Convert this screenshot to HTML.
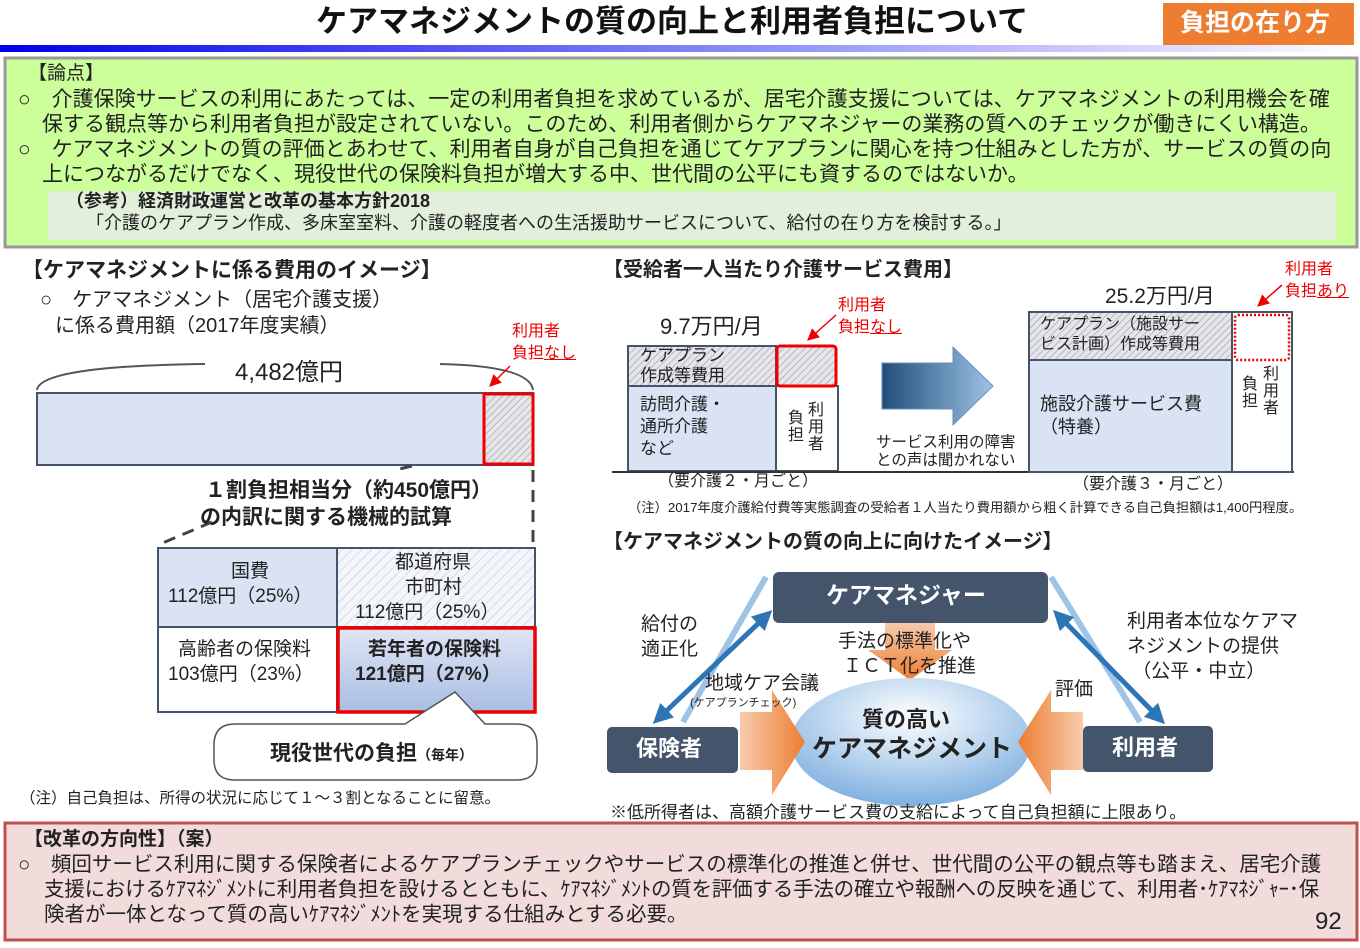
<!DOCTYPE html>
<html><head><meta charset="utf-8"><style>
*{margin:0;padding:0;box-sizing:border-box}
body{width:1360px;height:948px;background:#fff;position:relative;overflow:hidden;font-family:"Liberation Sans","Noto Sans CJK JP",sans-serif;color:#222}
.t{position:absolute;white-space:nowrap;line-height:1}
.b{font-weight:bold}
svg{position:absolute;left:0;top:0}
</style></head><body>
<svg width="1360" height="948" viewBox="0 0 1360 948">
<defs>
<linearGradient id="hb" x1="0" x2="1"><stop offset="0" stop-color="#0000ee"/><stop offset="1" stop-color="#ffffff"/></linearGradient>
<pattern id="hatch" width="5" height="5" patternUnits="userSpaceOnUse" patternTransform="rotate(45)"><rect width="5" height="5" fill="#e6e6ea"/><line x1="0" y1="0" x2="0" y2="5" stroke="#9a9aa8" stroke-width="1.2"/></pattern>
<pattern id="hatch2" width="7" height="7" patternUnits="userSpaceOnUse" patternTransform="rotate(45)"><rect width="7" height="7" fill="#f4f6fa"/><line x1="0" y1="0" x2="0" y2="7" stroke="#c9d3e6" stroke-width="1.5"/></pattern>
<linearGradient id="yb" x1="0" y1="0" x2="0" y2="1"><stop offset="0" stop-color="#dfe6f4"/><stop offset="1" stop-color="#a9bde3"/></linearGradient>
<linearGradient id="arr" x1="0" x2="1"><stop offset="0" stop-color="#1f4e79"/><stop offset="1" stop-color="#9dc3e6"/></linearGradient>
<radialGradient id="ell" cx="0.5" cy="0.3" r="0.7"><stop offset="0" stop-color="#ffffff"/><stop offset="1" stop-color="#7fb0e0"/></radialGradient>
<linearGradient id="orR" x1="0" x2="1"><stop offset="0" stop-color="#f8cbad"/><stop offset="1" stop-color="#ed7d31"/></linearGradient>
<linearGradient id="orL" x1="1" x2="0"><stop offset="0" stop-color="#f8cbad"/><stop offset="1" stop-color="#ed7d31"/></linearGradient>
<linearGradient id="orD" x1="0" y1="0" x2="0" y2="1"><stop offset="0" stop-color="#f8cbad"/><stop offset="1" stop-color="#ed7d31"/></linearGradient>
<marker id="ah" viewBox="0 0 10 10" refX="5" refY="5" markerWidth="4" markerHeight="4" orient="auto-start-reverse"><path d="M0,0 L10,5 L0,10 z" fill="#2e75b6"/></marker>
<marker id="ar" viewBox="0 0 10 10" refX="9" refY="5" markerWidth="8" markerHeight="8" orient="auto"><path d="M0,0 L10,5 L0,10 z" fill="#e00"/></marker>
</defs>
<rect x="1163" y="3" width="191" height="42" fill="#ed7d31"/>
<rect x="0" y="45" width="1360" height="7" fill="url(#hb)"/>
<rect x="5" y="58" width="1352" height="189" fill="#ccff99" stroke="#999" stroke-width="3"/>
<rect x="48" y="191" width="1288" height="49" fill="#e2efda"/>
<path d="M37,390 Q40,366 205,364" fill="none" stroke="#555" stroke-width="2"/>
<path d="M440,364 Q530,366 533,390" fill="none" stroke="#555" stroke-width="2"/>
<rect x="37" y="393" width="496" height="72" fill="#dae3f3" stroke="#44546a" stroke-width="2"/>
<rect x="484" y="394" width="49" height="70" fill="url(#hatch)" stroke="#e00" stroke-width="3"/>
<line x1="510" y1="366" x2="490" y2="386" stroke="#e00" stroke-width="1.5" marker-end="url(#ar)"/>
<path d="M533,470 L533,556" stroke="#444" stroke-width="3" stroke-dasharray="12,8" fill="none"/>
<path d="M412,466 L395,470 M212,522 L158,545" stroke="#444" stroke-width="3" stroke-dasharray="12,8" fill="none"/>
<rect x="158" y="548" width="179" height="79" fill="#dae3f3" stroke="#44546a" stroke-width="2"/>
<rect x="337" y="548" width="198" height="79" fill="url(#hatch2)" stroke="#44546a" stroke-width="2"/>
<rect x="158" y="627" width="179" height="85" fill="#fff" stroke="#44546a" stroke-width="2"/>
<rect x="338" y="628" width="197" height="84" fill="url(#yb)" stroke="#e00" stroke-width="3.5"/>
<path d="M214,745 Q214,724 235,724 L405,724 L455,692 L485,724 L517,724 Q537,724 537,745 L537,760 Q537,780 517,780 L235,780 Q214,780 214,760 Z" fill="#fff" stroke="#555" stroke-width="1.5"/>
<rect x="628" y="346" width="148" height="40" fill="url(#hatch)" stroke="#44546a" stroke-width="2"/>
<rect x="628" y="386" width="148" height="85" fill="#dae3f3" stroke="#44546a" stroke-width="2"/>
<rect x="776" y="386" width="62" height="85" fill="#fff" stroke="#44546a" stroke-width="2"/>
<rect x="777" y="346" width="59" height="40" rx="3" fill="url(#hatch)" stroke="#e00" stroke-width="3"/>
<line x1="836" y1="315" x2="808" y2="340" stroke="#e00" stroke-width="1.5" marker-end="url(#ar)"/>
<line x1="612" y1="472" x2="1294" y2="472" stroke="#333" stroke-width="2"/>
<path d="M882,363 L953,363 L953,347 L993,386 L953,425 L953,409 L882,409 Z" fill="url(#arr)" stroke="#6c8ebf" stroke-width="1"/>
<rect x="1029" y="312" width="203" height="48" fill="url(#hatch)" stroke="#44546a" stroke-width="2"/>
<rect x="1029" y="360" width="203" height="112" fill="#dae3f3" stroke="#44546a" stroke-width="2"/>
<rect x="1232" y="312" width="60" height="160" fill="#fff" stroke="#44546a" stroke-width="2"/>
<rect x="1235" y="315" width="54" height="45" rx="3" fill="none" stroke="#e00" stroke-width="2.5" stroke-dasharray="2,2"/>
<line x1="1282" y1="285" x2="1258" y2="306" stroke="#e00" stroke-width="1.5" marker-end="url(#ar)"/>
<line x1="766" y1="577" x2="683" y2="722" stroke="#9dc3e6" stroke-width="6"/>
<line x1="1051" y1="577" x2="1140" y2="722" stroke="#9dc3e6" stroke-width="6"/>
<line x1="765" y1="617" x2="660" y2="717" stroke="#2e75b6" stroke-width="5" marker-start="url(#ah)" marker-end="url(#ah)"/>
<line x1="1060" y1="617" x2="1158" y2="717" stroke="#2e75b6" stroke-width="5" marker-start="url(#ah)" marker-end="url(#ah)"/>
<path d="M885,622 L935,622 L935,650 L952,650 L910,680 L868,650 L885,650 Z" fill="url(#orD)"/>
<ellipse cx="911" cy="742" rx="120" ry="64" fill="url(#ell)"/>
<path d="M740,712 L772,712 L772,690 L805,742 L772,795 L772,770 L740,770 Z" fill="url(#orR)"/>
<path d="M1083,712 L1051,712 L1051,690 L1018,742 L1051,795 L1051,770 L1083,770 Z" fill="url(#orL)"/>
<rect x="773" y="572" width="275" height="51" rx="6" fill="#44546a"/>
<rect x="607" y="727" width="131" height="46" rx="5" fill="#44546a"/>
<rect x="1083" y="726" width="130" height="46" rx="5" fill="#44546a"/>
<rect x="5" y="823" width="1352" height="117" fill="#f2dcdb" stroke="#c0504d" stroke-width="3"/>
</svg>

<div class="t b" style="left:316px;top:6px;font-size:31px;color:#111">ケアマネジメントの質の向上と利用者負担について</div>
<div class="t b" style="left:1180px;top:11px;font-size:25px;color:#fff">負担の在り方</div>

<div class="t" style="left:28px;top:64px;font-size:19px">【論点】</div>
<div class="t" style="left:18px;top:89px;font-size:21px">○　介護保険サービスの利用にあたっては、一定の利用者負担を求めているが、居宅介護支援については、ケアマネジメントの利用機会を確</div>
<div class="t" style="left:42px;top:114px;font-size:21px">保する観点等から利用者負担が設定されていない。このため、利用者側からケアマネジャーの業務の質へのチェックが働きにくい構造。</div>
<div class="t" style="left:18px;top:139px;font-size:21px">○　ケアマネジメントの質の評価とあわせて、利用者自身が自己負担を通じてケアプランに関心を持つ仕組みとした方が、サービスの質の向</div>
<div class="t" style="left:42px;top:164px;font-size:21px">上につながるだけでなく、現役世代の保険料負担が増大する中、世代間の公平にも資するのではないか。</div>
<div class="t b" style="left:66px;top:192px;font-size:18px">（参考）経済財政運営と改革の基本方針2018</div>
<div class="t" style="left:86px;top:214px;font-size:18px">「介護のケアプラン作成、多床室室料、介護の軽度者への生活援助サービスについて、給付の在り方を検討する。」</div>

<div class="t b" style="left:22px;top:260px;font-size:21px">【ケアマネジメントに係る費用のイメージ】</div>
<div class="t" style="left:40px;top:290px;font-size:20px">○　ケアマネジメント（居宅介護支援）</div>
<div class="t" style="left:55px;top:316px;font-size:20px">に係る費用額（2017年度実績）</div>
<div class="t" style="left:235px;top:361px;font-size:24px">4,482億円</div>
<div class="t" style="left:512px;top:324px;font-size:16px;color:#e00">利用者</div>
<div class="t" style="left:512px;top:346px;font-size:16px;color:#e00">負担<u>なし</u></div>
<div class="t b" style="left:205px;top:480px;font-size:21px">１割負担相当分（約450億円）</div>
<div class="t b" style="left:200px;top:507px;font-size:21px">の内訳に関する機械的試算</div>
<div class="t" style="left:231px;top:562px;font-size:19px">国費</div>
<div class="t" style="left:168px;top:587px;font-size:19px">112億円（25%）</div>
<div class="t" style="left:395px;top:553px;font-size:19px">都道府県</div>
<div class="t" style="left:405px;top:578px;font-size:19px">市町村</div>
<div class="t" style="left:355px;top:603px;font-size:19px">112億円（25%）</div>
<div class="t" style="left:178px;top:640px;font-size:19px">高齢者の保険料</div>
<div class="t" style="left:168px;top:665px;font-size:19px">103億円（23%）</div>
<div class="t b" style="left:368px;top:640px;font-size:19px">若年者の保険料</div>
<div class="t b" style="left:355px;top:665px;font-size:19px">121億円（27%）</div>
<div class="t b" style="left:270px;top:743px;font-size:21px">現役世代の負担<span style="font-size:14px">（毎年）</span></div>
<div class="t" style="left:20px;top:791px;font-size:15.5px">（注）自己負担は、所得の状況に応じて１～３割となることに留意。</div>

<div class="t b" style="left:603px;top:260px;font-size:20px">【受給者一人当たり介護サービス費用】</div>
<div class="t" style="left:660px;top:316px;font-size:22px">9.7万円/月</div>
<div class="t" style="left:838px;top:298px;font-size:16px;color:#e00">利用者</div>
<div class="t" style="left:838px;top:320px;font-size:16px;color:#e00">負担<u>なし</u></div>
<div class="t" style="left:640px;top:346px;font-size:17px;line-height:20px;white-space:normal;width:120px">ケアプラン<br>作成等費用</div>
<div class="t" style="left:640px;top:394px;font-size:17px;line-height:22px">訪問介護・<br>通所介護<br>など</div>
<div class="t" style="left:788px;top:410px;font-size:16px;line-height:17px;width:16px;white-space:normal">負担</div>
<div class="t" style="left:808px;top:402px;font-size:16px;line-height:17px;width:16px;white-space:normal">利用者</div>
<div class="t" style="left:876px;top:434px;font-size:15.5px;line-height:18px">サービス利用の障害<br>との声は聞かれない</div>
<div class="t" style="left:1105px;top:286px;font-size:21px">25.2万円/月</div>
<div class="t" style="left:1285px;top:262px;font-size:16px;color:#e00">利用者</div>
<div class="t" style="left:1285px;top:284px;font-size:16px;color:#e00">負担<u>あり</u></div>
<div class="t" style="left:1040px;top:315px;font-size:16px;line-height:20px">ケアプラン（施設サー<br>ビス計画）作成等費用</div>
<div class="t" style="left:1040px;top:393px;font-size:18px;line-height:23px">施設介護サービス費<br>（特養）</div>
<div class="t" style="left:1242px;top:376px;font-size:16px;line-height:17px;width:16px;white-space:normal">負担</div>
<div class="t" style="left:1263px;top:366px;font-size:16px;line-height:17px;width:16px;white-space:normal">利用者</div>
<div class="t" style="left:658px;top:474px;font-size:16px">（要介護２・月ごと）</div>
<div class="t" style="left:1073px;top:477px;font-size:16px">（要介護３・月ごと）</div>
<div class="t" style="left:628px;top:501px;font-size:13.3px">（注）2017年度介護給付費等実態調査の受給者１人当たり費用額から粗く計算できる自己負担額は1,400円程度。</div>

<div class="t b" style="left:603px;top:532px;font-size:20px">【ケアマネジメントの質の向上に向けたイメージ】</div>
<div class="t b" style="left:826px;top:584px;font-size:23px;color:#fff">ケアマネジャー</div>
<div class="t b" style="left:636px;top:738px;font-size:22px;color:#fff">保険者</div>
<div class="t b" style="left:1112px;top:737px;font-size:22px;color:#fff">利用者</div>
<div class="t" style="left:641px;top:612px;font-size:19px;line-height:25px">給付の<br>適正化</div>
<div class="t" style="left:838px;top:632px;font-size:19px">手法の標準化や</div>
<div class="t" style="left:843px;top:657px;font-size:19px">ＩＣＴ化を推進</div>
<div class="t" style="left:705px;top:674px;font-size:19px">地域ケア会議</div>
<div class="t" style="left:690px;top:698px;font-size:11px">(ケアプランチェック)</div>
<div class="t" style="left:1055px;top:680px;font-size:19px">評価</div>
<div class="t" style="left:1127px;top:609px;font-size:19px;line-height:25px">利用者本位なケアマ<br>ネジメントの提供<br>&nbsp;（公平・中立）</div>
<div class="t b" style="left:862px;top:709px;font-size:22px">質の高い</div>
<div class="t b" style="left:812px;top:737px;font-size:25px">ケアマネジメント</div>
<div class="t" style="left:610px;top:804px;font-size:17px">※低所得者は、高額介護サービス費の支給によって自己負担額に上限あり。</div>

<div class="t b" style="left:24px;top:830px;font-size:19px">【改革の方向性】（案）</div>
<div class="t" style="left:18px;top:855px;font-size:20.5px">○　頻回サービス利用に関する保険者によるケアプランチェックやサービスの標準化の推進と併せ、世代間の公平の観点等も踏まえ、居宅介護</div>
<div class="t" style="left:44px;top:880px;font-size:20.5px;letter-spacing:-0.2px">支援におけるｹｱﾏﾈｼﾞﾒﾝﾄに利用者負担を設けるとともに、ｹｱﾏﾈｼﾞﾒﾝﾄの質を評価する手法の確立や報酬への反映を通じて、利用者･ｹｱﾏﾈｼﾞｬｰ･保</div>
<div class="t" style="left:44px;top:905px;font-size:20.5px">険者が一体となって質の高いｹｱﾏﾈｼﾞﾒﾝﾄを実現する仕組みとする必要。</div>
<div class="t" style="left:1315px;top:910px;font-size:24px">92</div>
</body></html>
